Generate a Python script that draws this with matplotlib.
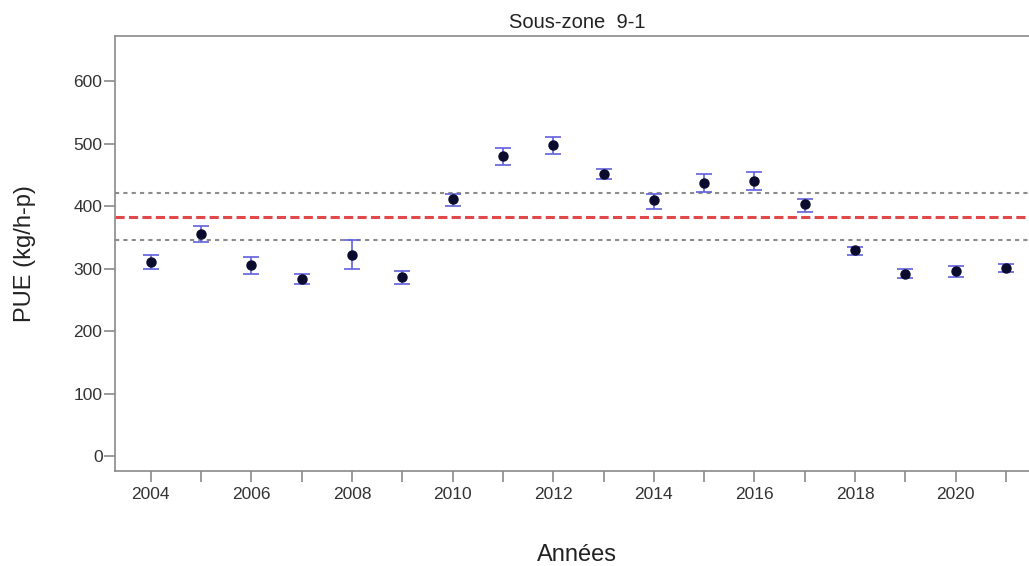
import numpy as np
import matplotlib
matplotlib.use("Agg")
import matplotlib.pyplot as plt

plt.rcParams['font.family'] = ['Liberation Sans', 'DejaVu Sans']

# PUE annuelle, sous-zone 9-1
annees = [2004, 2005, 2006, 2007, 2008, 2009, 2010, 2011, 2012,
          2013, 2014, 2015, 2016, 2017, 2018, 2019, 2020, 2021]
pue = [311, 355, 306, 283, 322, 287, 411, 480, 498,
       452, 409, 437, 440, 403, 330, 292, 296, 301]
borne_inf = [299, 342, 292, 275, 299, 276, 401, 465, 483,
             443, 396, 422, 425, 390, 322, 285, 286, 295]
borne_sup = [322, 368, 318, 291, 346, 297, 420, 493, 510,
             460, 420, 451, 454, 412, 335, 299, 305, 307]

moyenne = 383
moyenne_inf = 346
moyenne_sup = 421

W, H = 1029, 566
fig = plt.figure(figsize=(W / 100, H / 100), dpi=100)
ax = fig.add_axes([115 / W, (H - 470.7) / H, 931.3 / W, 434.7 / H])

pue = np.array(pue)
err = [pue - np.array(borne_inf), np.array(borne_sup) - pue]

ax.axhline(moyenne_sup, color='#8c8c8c', lw=1.5, dashes=(2, 2), zorder=1)
ax.axhline(moyenne_inf, color='#8c8c8c', lw=1.5, dashes=(2, 2), zorder=1)
ax.axhline(moyenne, color='#e0484a', lw=2.2, dashes=(3, 1.4), zorder=1)

ax.errorbar(annees, pue, yerr=err, fmt='o', color='#0b0b2e', ms=6.5,
            ecolor='#6060dd', elinewidth=1.2, capsize=6, capthick=1.2,
            zorder=3)

ax.set_xlim(2003.29, 2021.8)
ax.set_ylim(-23, 672)
ax.set_xticks(range(2004, 2022, 2))
ax.set_xticks(range(2005, 2022, 2), minor=True)
ax.set_yticks(range(0, 700, 100))

for s in ['top', 'left', 'bottom']:
    ax.spines[s].set_color('#8a8a8a')
    ax.spines[s].set_linewidth(1.2)
ax.spines['right'].set_visible(False)

ax.tick_params(which='both', direction='out', length=8, width=1.2,
               color='#8a8a8a', labelsize=12.5, labelcolor='#333333')
ax.tick_params(axis='x', pad=4)
ax.tick_params(axis='y', pad=1)

ax.set_title("Sous-zone  9-1", x=(577 - 115) / 931.3, pad=6,
             fontsize=14.5, color='#222222')
ax.set_ylabel("PUE (kg/h-p)", fontsize=17, color='#222222', va='center')
ax.yaxis.set_label_coords((25 - 115) / 931.3, 0.5)
ax.set_xlabel("Années", fontsize=17, color='#222222', va='center')
ax.xaxis.set_label_coords((576.5 - 115) / 931.3, (470.7 - 555) / 434.7)

fig.savefig("out.png", dpi=100)
